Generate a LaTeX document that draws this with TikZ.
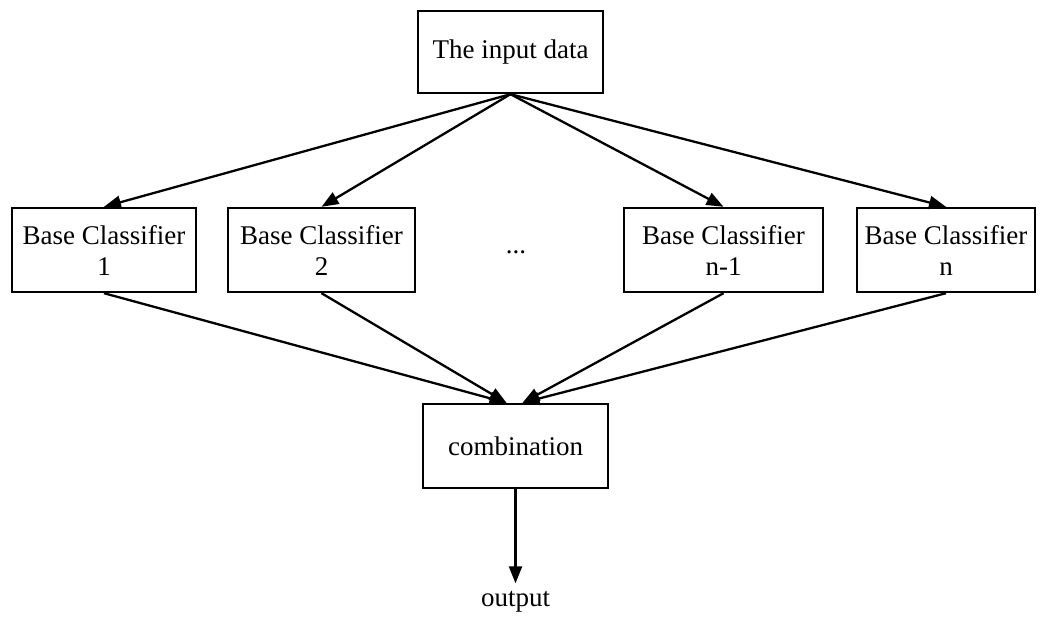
\documentclass[tikz,border=0pt]{standalone}
\usepackage{fontspec}
\setmainfont{Liberation Serif}
\usetikzlibrary{arrows.meta}
\begin{document}
\begin{tikzpicture}[x=1pt,y=-1pt,
  box/.style={draw,line width=2.4pt,inner sep=0pt,align=center,font=\fontsize{27}{31}\selectfont,minimum height=84pt},
  lbl/.style={inner sep=0pt,font=\fontsize{27}{31}\selectfont},
  conn/.style={line width=2.3pt,-{Triangle[length=17pt,width=13pt]}}]
\useasboundingbox (0,0) rectangle (1041,617);
\node[box,minimum width=185pt,minimum height=82pt] (in) at (510.5,52) {The input data};
\node[box,minimum width=184pt] (b1) at (104,250) {Base Classifier\\1};
\node[box,minimum width=187pt] (b2) at (321.5,250) {Base Classifier\\2};
\node[lbl] (dots) at (516,252) {...};
\node[box,minimum width=199pt] (bn1) at (723.5,250) {Base Classifier\\n-1};
\node[box,minimum width=178pt] (bn) at (946,250) {Base Classifier\\n};
\node[box,minimum width=185pt] (comb) at (515.5,446) {combination};
\node[lbl] (out) at (515.5,602) {output};
\coordinate (cl) at ([xshift=-9pt]comb.north);
\coordinate (cr) at ([xshift=7pt]comb.north);
\draw[conn] (in.south) -- (b1.north);
\draw[conn] (in.south) -- (b2.north);
\draw[conn] (in.south) -- (bn1.north);
\draw[conn] (in.south) -- (bn.north);
\draw[conn] (b1.south) -- (cl);
\draw[conn] (b2.south) -- (cl);
\draw[conn] (bn1.south) -- (cr);
\draw[conn] (bn.south) -- (cr);
\draw[conn,shorten >=8pt] (comb.south) -- (out.north);
\end{tikzpicture}
\end{document}
